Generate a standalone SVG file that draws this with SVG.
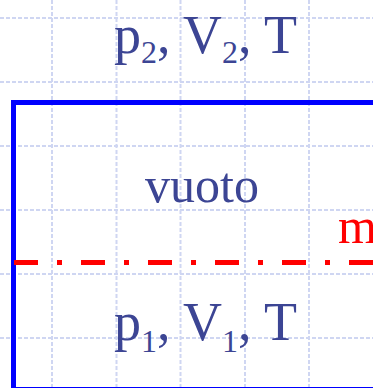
<svg xmlns="http://www.w3.org/2000/svg" width="373" height="388" viewBox="0 0 373 388">
<style>
.grid line{stroke:#cfd6f2;stroke-width:2;stroke-dasharray:4 2}
.lbl{font-family:"Liberation Serif","Times New Roman",serif;fill:#3c4594}
</style>
<rect width="373" height="388" fill="#ffffff"/>
<g class="grid" id="grid">
<line x1="52" y1="0" x2="52" y2="388"/>
<line x1="116.5" y1="0" x2="116.5" y2="388"/>
<line x1="180.5" y1="0" x2="180.5" y2="388"/>
<line x1="245" y1="0" x2="245" y2="388"/>
<line x1="309" y1="0" x2="309" y2="388"/>
<line x1="0" y1="18" x2="373" y2="18"/>
<line x1="0" y1="82" x2="373" y2="82"/>
<line x1="0" y1="146" x2="373" y2="146"/>
<line x1="0" y1="210" x2="373" y2="210"/>
<line x1="0" y1="274" x2="373" y2="274"/>
<line x1="0" y1="338" x2="373" y2="338"/>
</g>
<g id="container">
<rect x="13.5" y="102.5" width="400" height="287" fill="none" stroke="#0000ff" stroke-width="5"/>
</g>
<g id="piston">
<line x1="14" y1="262.5" x2="373" y2="262.5" stroke="#ff0000" stroke-width="5" stroke-dasharray="24 19 5 19"/>
<text x="338" y="243" font-family="Liberation Serif, Times New Roman, serif" font-size="50" fill="#ff0000">m</text>
</g>
<g id="top-state">
<text class="lbl" x="114" y="53" font-size="54">p<tspan font-size="32" dy="10">2</tspan><tspan dy="-10">, V</tspan><tspan font-size="32" dy="10">2</tspan><tspan dy="-10">, T</tspan></text>
</g>
<g id="vacuum">
<text class="lbl" x="145" y="202" font-size="50">vuoto</text>
</g>
<g id="bottom-state">
<text class="lbl" x="114" y="340" font-size="54">p<tspan font-size="32" dy="12">1</tspan><tspan dy="-12">, V</tspan><tspan font-size="32" dy="12">1</tspan><tspan dy="-12">, T</tspan></text>
</g>
</svg>
